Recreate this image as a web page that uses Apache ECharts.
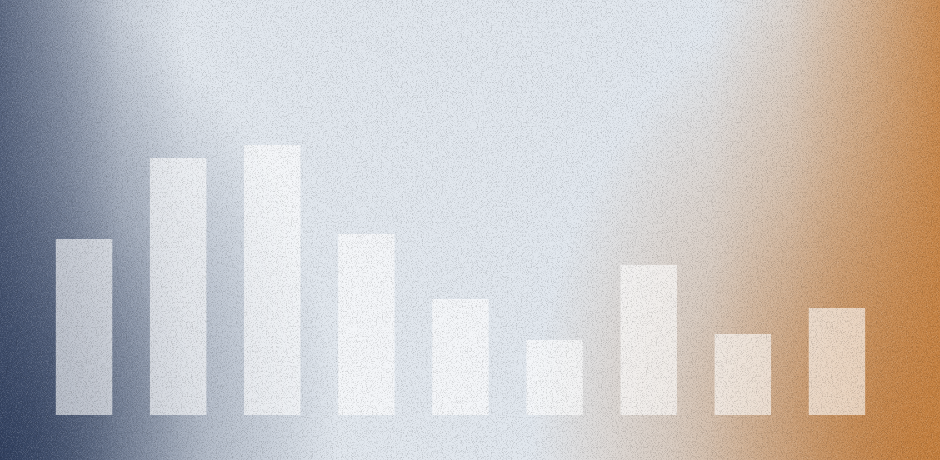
<!DOCTYPE html>
<html>
<head>
<meta charset="utf-8">
<script src="https://cdn.jsdelivr.net/npm/echarts@6/dist/echarts.min.js"></script>
<style>
    html, body { margin: 0; padding: 0; }
    #wrap {
        position: relative;
        width: 940px;
        height: 460px;
        overflow: hidden;
        background:
            linear-gradient(90deg, rgba(45,60,92,0.72) 0px, rgba(45,60,92,0.45) 60px, rgba(45,60,92,0.15) 120px, rgba(45,60,92,0) 185px),
            radial-gradient(ellipse 340px 480px at 0% 100%, rgba(38,54,86,0.88) 0%, rgba(38,54,86,0.6) 30%, rgba(38,54,86,0.25) 62%, rgba(38,54,86,0) 100%),
            linear-gradient(270deg, rgba(196,126,60,0.88) 0px, rgba(196,126,60,0.5) 70px, rgba(196,126,60,0.15) 150px, rgba(196,126,60,0) 230px),
            radial-gradient(ellipse 410px 520px at 100% 100%, rgba(186,116,52,0.92) 0%, rgba(186,116,52,0.6) 35%, rgba(186,116,52,0.25) 66%, rgba(186,116,52,0) 100%),
            #e0e6ed;
    }
    #chart { position: absolute; left: 0; top: 0; width: 940px; height: 460px; }
    #grain {
        position: absolute; left: 0; top: 0; width: 940px; height: 460px;
        pointer-events: none;
        opacity: 0.3;
        background-image: url("data:image/svg+xml;utf8,<svg xmlns='http://www.w3.org/2000/svg' width='940' height='460'><filter id='w' color-interpolation-filters='sRGB'><feTurbulence type='fractalNoise' baseFrequency='1.2' numOctaves='1' seed='3'/><feColorMatrix type='matrix' values='0 0 0 0 1  0 0 0 0 1  0 0 0 0 1  1.8 0 0 0 -0.9'/></filter><filter id='b' color-interpolation-filters='sRGB'><feTurbulence type='fractalNoise' baseFrequency='1.2' numOctaves='1' seed='3'/><feColorMatrix type='matrix' values='0 0 0 0 0  0 0 0 0 0  0 0 0 0 0  -1.8 0 0 0 0.9'/></filter><rect width='100%' height='100%' filter='url(%23w)'/><rect width='100%' height='100%' filter='url(%23b)'/></svg>");
    }
</style>
</head>
<body>
<div id="wrap">
    <div id="chart"></div>
    <div id="grain"></div>
</div>
<script>
var categories = ['A', 'B', 'C', 'D', 'E', 'F', 'G', 'H', 'I'];
var values = [176, 257, 270, 181, 116, 75, 150, 81, 107];

var option = {
    animation: false,
    grid: {
        left: 37,
        right: 56,
        top: 115,
        bottom: 45
    },
    xAxis: {
        type: 'category',
        data: categories,
        show: false
    },
    yAxis: {
        type: 'value',
        min: 0,
        max: 300,
        show: false
    },
    series: [
        {
            type: 'bar',
            barCategoryGap: '40%',
            itemStyle: {
                color: 'rgba(255,255,255,0.6)'
            },
            data: values
        }
    ]
};

var chart = echarts.init(document.getElementById('chart'));
chart.setOption(option);
</script>
</body>
</html>
